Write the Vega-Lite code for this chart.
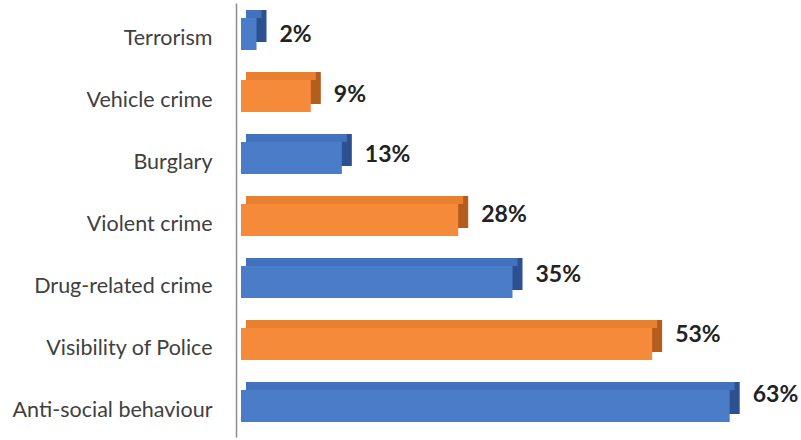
{
  "$schema": "https://vega.github.io/schema/vega-lite/v6.json",
  "width": 543,
  "height": 434,
  "autosize": "none",
  "padding": {"left": 236, "top": 3, "right": 22, "bottom": 3},
  "background": "white",
  "config": {"view": {"stroke": null}},
  "data": {
    "values": [
      {"category": "Terrorism", "value": 0.02},
      {"category": "Vehicle crime", "value": 0.09},
      {"category": "Burglary", "value": 0.13},
      {"category": "Violent crime", "value": 0.28},
      {"category": "Drug-related crime", "value": 0.35},
      {"category": "Visibility of Police", "value": 0.53},
      {"category": "Anti-social behaviour", "value": 0.63}
    ]
  },
  "layer": [
    {
      "encoding": {
        "y": {
          "field": "category",
          "type": "nominal",
          "sort": null,
          "scale": {"paddingInner": 0, "paddingOuter": 0},
          "axis": {
            "title": null,
            "ticks": false,
            "labelPadding": 24,
            "labelFontSize": 21.5,
            "labelFont": "Lato",
            "labelColor": "#404040",
            "labelOffset": 5,
            "domainColor": "#8c8c8c",
            "domainWidth": 1.5,
            "labelLimit": 300
          }
        },
        "x": {
          "field": "value",
          "type": "quantitative",
          "scale": {"domain": [0, 0.7]},
          "axis": null
        }
      },
      "layer": [
        {
          "mark": {"type": "bar", "height": 32, "xOffset": 15, "yOffset": -8},
          "encoding": {
            "color": {
              "field": "category",
              "type": "nominal",
              "scale": {
                "domain": ["Terrorism", "Vehicle crime", "Burglary", "Violent crime", "Drug-related crime", "Visibility of Police", "Anti-social behaviour"],
                "range": ["#2d5190", "#b55d1d", "#2d5190", "#b55d1d", "#2d5190", "#b55d1d", "#2d5190"]
              },
              "legend": null
            }
          }
        },
        {
          "mark": {"type": "bar", "height": 8, "xOffset": 10, "yOffset": -20},
          "encoding": {
            "color": {
              "field": "category",
              "type": "nominal",
              "scale": {
                "domain": ["Terrorism", "Vehicle crime", "Burglary", "Violent crime", "Drug-related crime", "Visibility of Police", "Anti-social behaviour"],
                "range": ["#4272bd", "#e8802f", "#4272bd", "#e8802f", "#4272bd", "#e8802f", "#4272bd"]
              },
              "legend": null
            }
          }
        },
        {
          "mark": {"type": "bar", "height": 32, "xOffset": 5},
          "encoding": {
            "color": {
              "field": "category",
              "type": "nominal",
              "scale": {
                "domain": ["Terrorism", "Vehicle crime", "Burglary", "Violent crime", "Drug-related crime", "Visibility of Police", "Anti-social behaviour"],
                "range": ["#4a7cc8", "#f58a3a", "#4a7cc8", "#f58a3a", "#4a7cc8", "#f58a3a", "#4a7cc8"]
              },
              "legend": null
            }
          }
        }
      ],
      "resolve": {"scale": {"color": "independent"}}
    },
    {
      "mark": {
        "type": "text",
        "align": "left",
        "baseline": "middle",
        "dx": 28,
        "font": "Lato",
        "fontSize": 23,
        "fontWeight": "bold",
        "color": "#222222"
      },
      "encoding": {
        "y": {
          "field": "category",
          "type": "nominal",
          "sort": null,
          "scale": {"type": "band", "paddingInner": 0, "paddingOuter": 0.118, "align": 0.15},
          "axis": null
        },
        "x": {
          "field": "value",
          "type": "quantitative",
          "scale": {"domain": [0, 0.7]},
          "axis": null
        },
        "text": {"field": "value", "type": "quantitative", "format": ".0%"}
      }
    }
  ],
  "resolve": {"scale": {"y": "independent"}}
}
